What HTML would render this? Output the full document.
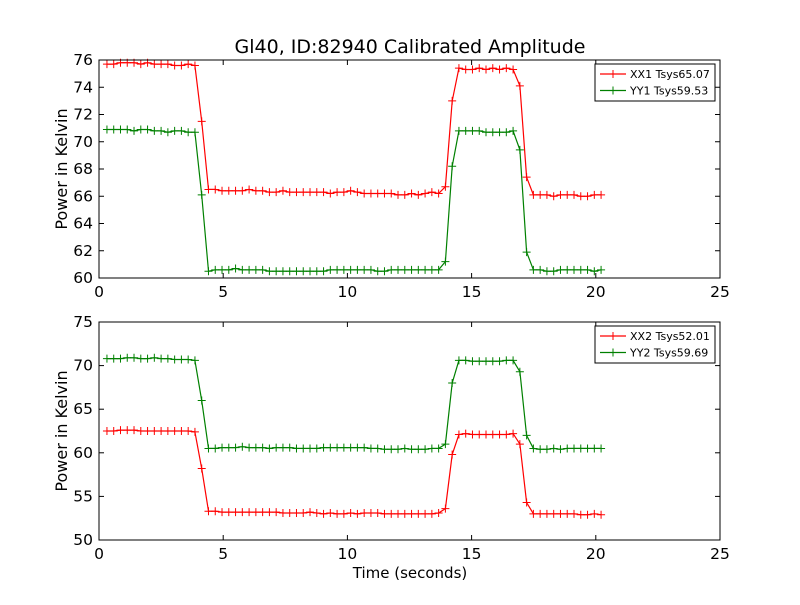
<!DOCTYPE html>
<html><head><meta charset="utf-8"><style>
body{margin:0;background:#fff}
svg text{font-family:"DejaVu Sans","Liberation Sans",sans-serif}
</style></head><body>
<svg id="c" width="800" height="600" xmlns="http://www.w3.org/2000/svg">
<rect width="800" height="600" fill="#fff"/>
<text x="410" y="53" font-size="19" text-anchor="middle">Gl40, ID:82940 Calibrated Amplitude</text>
<text x="410" y="578" font-size="15" text-anchor="middle">Time (seconds)</text>
</svg>
<script>
const t0 = 0.32, dt = 0.2725, nSamples = 74;
const xTicks = [0,5,10,15,20,25];
const yTicksTop = [60,62,64,66,68,70,72,74,76];
const yTicksBot = [50,55,60,65,70,75];
const xx1 = [75.7,75.7,75.8,75.8,75.8,75.7,75.8,75.7,75.7,75.7,75.6,75.6,75.7,75.6,71.5,66.5,66.5,66.4,66.4,66.4,66.4,66.5,66.4,66.4,66.3,66.3,66.4,66.3,66.3,66.3,66.3,66.3,66.3,66.2,66.3,66.3,66.4,66.3,66.2,66.2,66.2,66.2,66.2,66.1,66.1,66.2,66.1,66.2,66.3,66.2,66.7,73.0,75.4,75.3,75.3,75.4,75.3,75.4,75.3,75.4,75.3,74.1,67.4,66.1,66.1,66.1,66.0,66.1,66.1,66.1,66.0,66.0,66.1,66.1];
const yy1 = [70.9,70.9,70.9,70.9,70.8,70.9,70.9,70.8,70.8,70.7,70.8,70.8,70.7,70.7,66.1,60.5,60.6,60.6,60.6,60.7,60.6,60.6,60.6,60.6,60.5,60.5,60.5,60.5,60.5,60.5,60.5,60.5,60.5,60.6,60.6,60.6,60.6,60.6,60.6,60.6,60.5,60.5,60.6,60.6,60.6,60.6,60.6,60.6,60.6,60.6,61.2,68.2,70.8,70.8,70.8,70.8,70.7,70.7,70.7,70.7,70.8,69.4,61.9,60.6,60.6,60.5,60.5,60.6,60.6,60.6,60.6,60.6,60.5,60.6];
const xx2 = [62.5,62.5,62.6,62.6,62.6,62.5,62.5,62.5,62.5,62.5,62.5,62.5,62.5,62.4,58.2,53.3,53.3,53.2,53.2,53.2,53.2,53.2,53.2,53.2,53.2,53.2,53.1,53.1,53.1,53.1,53.2,53.1,53.0,53.1,53.0,53.0,53.1,53.0,53.1,53.1,53.1,53.0,53.0,53.0,53.0,53.0,53.0,53.0,53.0,53.1,53.6,59.8,62.1,62.2,62.1,62.1,62.1,62.1,62.1,62.1,62.2,61.0,54.3,53.0,53.0,53.0,53.0,53.0,53.0,53.0,52.9,52.9,53.0,52.9];
const yy2 = [70.8,70.8,70.8,70.9,70.9,70.8,70.8,70.9,70.8,70.8,70.7,70.7,70.7,70.6,66.0,60.5,60.5,60.6,60.6,60.6,60.7,60.6,60.6,60.6,60.5,60.6,60.6,60.6,60.5,60.5,60.5,60.5,60.6,60.6,60.6,60.6,60.6,60.6,60.6,60.5,60.5,60.4,60.4,60.4,60.5,60.4,60.4,60.4,60.5,60.5,61.0,68.0,70.6,70.6,70.5,70.5,70.5,70.5,70.5,70.6,70.6,69.3,62.0,60.5,60.4,60.4,60.5,60.4,60.5,60.5,60.5,60.5,60.5,60.5];
const labels1 = ["XX1 Tsys65.07","YY1 Tsys59.53"];
const labels2 = ["XX2 Tsys52.01","YY2 Tsys59.69"];

const NS="http://www.w3.org/2000/svg";
const svg=document.getElementById('c');
function mk(tag,attrs,parent){const e=document.createElementNS(NS,tag);for(const k in attrs)e.setAttribute(k,attrs[k]);(parent||svg).appendChild(e);return e;}

function panel(top,bottom,ymin,ymax,yTicks,series,labels,name){
  const L=99,R=720;
  const g=mk('g',{});
  
  
  const sx=v=>L+(v-0)/(25-0)*(R-L);
  const sy=v=>bottom-(v-ymin)/(ymax-ymin)*(bottom-top);
  const times=[];for(let i=0;i<nSamples;i++)times.push(t0+i*dt);
  const colors=['#ff0000','#008000'];
  series.forEach((s,si)=>{
    const sg=mk('g',{},g);
    
    
    const pts=s.map((v,i)=>sx(times[i]).toFixed(1)+','+sy(v).toFixed(1)).join(' ');
    const pl=mk('polyline',{points:pts,fill:'none',stroke:colors[si],'stroke-width':1.2},sg);
    
    
    s.forEach((v,i)=>{
      const x=sx(times[i]),y=sy(v);
      const m=mk('path',{d:`M${x-4},${y}H${x+4}M${x},${y-4}V${y+4}`,stroke:colors[si],'stroke-width':1},sg);
      
      
    });
  });
  const fr=mk('rect',{x:L,y:top,width:R-L,height:bottom-top,fill:'none',stroke:'#000','stroke-width':1},g);
  
  
  xTicks.forEach(v=>{
    const x=sx(v);
    mk('line',{x1:x,x2:x,y1:bottom,y2:bottom-5,stroke:'#000'},g);
    mk('line',{x1:x,x2:x,y1:top,y2:top+5,stroke:'#000'},g);
    const t=mk('text',{x:x,y:bottom+19,'font-size':15.5,'text-anchor':'middle'},g);
    t.textContent=v;
    
    
  });
  yTicks.forEach(v=>{
    const y=sy(v);
    mk('line',{x1:L,x2:L+5,y1:y,y2:y,stroke:'#000'},g);
    mk('line',{x1:R,x2:R-5,y1:y,y2:y,stroke:'#000'},g);
    const t=mk('text',{x:L-6,y:y+5,'font-size':15.5,'text-anchor':'end'},g);
    t.textContent=v;
    
    
  });
  const yl=mk('text',{x:0,y:0,'font-size':16,'text-anchor':'middle',transform:`translate(67,${(top+bottom)/2}) rotate(-90)`},g);
  yl.textContent='Power in Kelvin';
  
  
  const lg=mk('g',{},g);
  
  
  mk('rect',{x:595,y:top+4,width:120,height:37,fill:'#fff',stroke:'#000','stroke-width':1},lg);
  labels.forEach((lab,i)=>{
    const y=top+14+i*16.5;
    mk('line',{x1:600,x2:626,y1:y,y2:y,stroke:colors[i],'stroke-width':1.2},lg);
    mk('path',{d:`M609,${y}h8M613,${y-4}v8`,stroke:colors[i]},lg);
    const t=mk('text',{x:630,y:y+4,'font-size':11},lg);
    t.textContent=lab;
    
    
  });
}
panel(60,278,60,76,yTicksTop,[xx1,yy1],labels1,'top-panel');
panel(322,540,50,75,yTicksBot,[xx2,yy2],labels2,'bottom-panel');
</script>
</body></html>
